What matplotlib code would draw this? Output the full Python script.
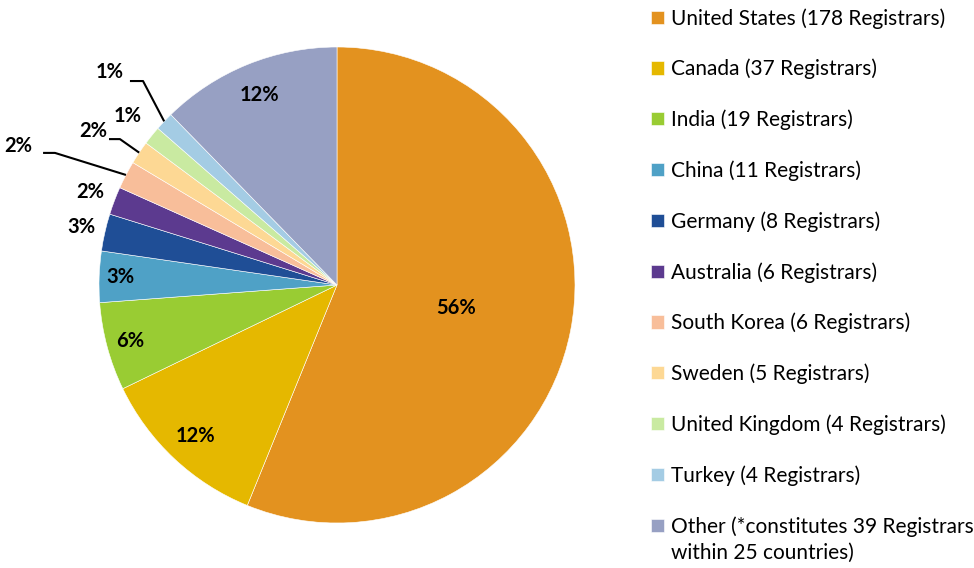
import numpy as np
import matplotlib.pyplot as plt

countries = ['United States', 'Canada', 'India', 'China', 'Germany', 'Australia',
             'South Korea', 'Sweden', 'United Kingdom', 'Turkey', 'Other']
registrars = [178, 37, 19, 11, 8, 6, 6, 5, 4, 4, 39]
pct_labels = ['56%', '12%', '6%', '3%', '3%', '2%', '2%', '2%', '1%', '1%', '12%']
legend_labels = ['United States (178 Registrars)', 'Canada (37 Registrars)',
                 'India (19 Registrars)', 'China (11 Registrars)',
                 'Germany (8 Registrars)', 'Australia (6 Registrars)',
                 'South Korea (6 Registrars)', 'Sweden (5 Registrars)',
                 'United Kingdom (4 Registrars)', 'Turkey (4 Registrars)',
                 'Other (*constitutes 39 Registrars']
other_line2 = 'within 25 countries)'
colors = ['#E3921F', '#E5B800', '#99CC33', '#4FA1C6', '#1F4E96', '#5C3A8F',
          '#F8BE9A', '#FDD894', '#C9EAA1', '#A4CCE4', '#97A0C3']

plt.rcParams['font.family'] = ['Lato', 'DejaVu Sans']

fig = plt.figure(figsize=(9.74, 5.68), dpi=100)
W, H = 974, 568
cx, cy, r = 337, 285, 238   # pie centre / radius in pixels
ax = fig.add_axes([(cx - r) / W, (H - cy - r) / H, 2 * r / W, 2 * r / H])
wedges, _ = ax.pie(registrars, colors=colors, startangle=90, counterclock=False,
                   radius=1, wedgeprops=dict(edgecolor='white', linewidth=0.4))
ax.set_xlim(-1, 1)
ax.set_ylim(-1, 1)

# radial distance of each label (None -> placed with a leader line)
label_r = [0.51, 0.87, 0.90, 0.91, 1.10, 1.11, None, None, 1.13, None, 0.86]
# leader labels: text centre, line start, elbow (data coords)
leaders = {
    6: ((-1.34, 0.585), (-1.235, 0.555), (-1.185, 0.555)),
    7: ((-1.025, 0.645), (-0.958, 0.613), (-0.912, 0.613)),
    9: ((-0.954, 0.893), (-0.870, 0.857), (-0.815, 0.857)),
}

for i, w in enumerate(wedges):
    ang = np.deg2rad((w.theta1 + w.theta2) / 2)
    if label_r[i] is not None:
        x, y = label_r[i] * np.cos(ang), label_r[i] * np.sin(ang)
        ax.text(x, y, pct_labels[i], ha='center', va='center',
                fontsize=14.5, fontweight='bold')
    else:
        (tx, ty), (sx, sy), (ex, ey) = leaders[i]
        ax.text(tx, ty, pct_labels[i], ha='center', va='center',
                fontsize=14.5, fontweight='bold')
        ax.plot([sx, ex, np.cos(ang)], [sy, ey, np.sin(ang)], color='black',
                lw=1.5, clip_on=False, solid_capstyle='butt')

leg = fig.legend(wedges, legend_labels, loc='upper left',
                 bbox_to_anchor=(651 / W, 1 - 8 / H), frameon=False,
                 fontsize=15, labelspacing=1.45, handlelength=0.6,
                 handleheight=0.6, handletextpad=0.35, borderpad=0,
                 borderaxespad=0)

fig.canvas.draw()
last = leg.get_texts()[-1].get_window_extent()
fig.text(last.x0 / W, (last.y0 - 26) / H, other_line2, fontsize=15,
         ha='left', va='bottom')

fig.savefig('out.png', dpi=100)
